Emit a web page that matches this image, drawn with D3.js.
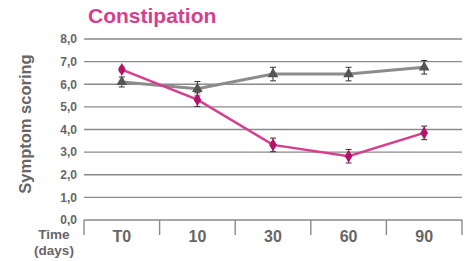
<!DOCTYPE html>
<html>
<head>
<meta charset="utf-8">
<script src="https://cdn.jsdelivr.net/npm/d3@7"></script>
<style>
  body { margin: 0; background: #fff; font-family: "Liberation Sans", Arial, sans-serif; }
</style>
</head>
<body>
<script>
// Data
const days = ["T0", "10", "30", "60", "90"];
const pinkValues = [6.65, 5.32, 3.32, 2.82, 3.85];
const pinkErrors = [0.1, 0.3, 0.3, 0.3, 0.3];
const greyValues = [6.1, 5.8, 6.45, 6.45, 6.75];
const greyErrors = [0.22, 0.32, 0.3, 0.3, 0.3];
const yTicks = [0, 1, 2, 3, 4, 5, 6, 7, 8];

const width = 473, height = 261;
const margin = { top: 39, right: 11, bottom: 41, left: 84 };

const svg = d3.select("body").append("svg")
    .attr("width", width)
    .attr("height", height);

const xScale = d3.scaleBand()
    .domain(days)
    .range([margin.left, width - margin.right]);

const yScale = d3.scaleLinear()
    .domain([0, 8])
    .range([height - margin.bottom, margin.top]);

// Gridlines
svg.append("g")
    .selectAll("line")
    .data(yTicks.filter(d => d > 0))
    .join("line")
    .attr("x1", margin.left)
    .attr("x2", width - margin.right)
    .attr("y1", d => yScale(d))
    .attr("y2", d => yScale(d))
    .attr("stroke", "#8a8a8a")
    .attr("stroke-width", 1.4);

// Y axis labels
const yAxis = d3.axisLeft(yScale)
    .tickValues(yTicks)
    .tickSize(0)
    .tickPadding(7)
    .tickFormat(d => d3.format(".1f")(d).replace(".", ","));

const yG = svg.append("g")
    .attr("transform", `translate(${margin.left}, 0)`)
    .call(yAxis);
yG.select(".domain").remove();
yG.selectAll("text")
    .attr("fill", "#666")
    .style("font-size", "12px")
    .style("font-weight", "bold")
    .style("font-family", "Liberation Sans, Arial, sans-serif");

// X axis: baseline with band dividers
const xAxisG = svg.append("g");
xAxisG.append("line")
    .attr("x1", margin.left)
    .attr("x2", width - margin.right)
    .attr("y1", yScale(0))
    .attr("y2", yScale(0))
    .attr("stroke", "#8a8a8a")
    .attr("stroke-width", 1.4);

const edges = days.map(d => xScale(d)).concat([xScale(days[days.length - 1]) + xScale.bandwidth()]);
xAxisG.selectAll(".divider")
    .data(edges)
    .join("line")
    .attr("class", "divider")
    .attr("x1", d => d)
    .attr("x2", d => d)
    .attr("y1", yScale(0))
    .attr("y2", yScale(0) + 15)
    .attr("stroke", "#8a8a8a")
    .attr("stroke-width", 1.4);

xAxisG.selectAll(".xlabel")
    .data(days)
    .join("text")
    .attr("class", "xlabel")
    .attr("x", d => xScale(d) + xScale.bandwidth() / 2)
    .attr("y", yScale(0) + 22)
    .attr("text-anchor", "middle")
    .attr("fill", "#666")
    .style("font-size", "16px")
    .style("font-weight", "bold")
    .text(d => d);

// "Time (days)" label
svg.append("text")
    .attr("x", 54)
    .attr("y", 239)
    .attr("text-anchor", "middle")
    .attr("fill", "#666")
    .style("font-size", "13.5px")
    .style("font-weight", "bold")
    .text("Time");
svg.append("text")
    .attr("x", 54)
    .attr("y", 255)
    .attr("text-anchor", "middle")
    .attr("fill", "#666")
    .style("font-size", "13.5px")
    .style("font-weight", "bold")
    .text("(days)");

// Y axis title
svg.append("text")
    .attr("transform", `translate(31, 124) rotate(-90)`)
    .attr("text-anchor", "middle")
    .attr("fill", "#666")
    .style("font-size", "16.5px")
    .style("font-weight", "bold")
    .text("Symptom scoring");

// Title
svg.append("text")
    .attr("x", 88)
    .attr("y", 23)
    .attr("fill", "#d63f8e")
    .style("font-size", "21px")
    .style("font-weight", "bold")
    .text("Constipation");

const cx = d => xScale(d) + xScale.bandwidth() / 2;

function drawSeries(values, errors, lineColor, markerColor, markerType, lineWidth) {
    const g = svg.append("g");
    const pts = days.map((d, i) => ({ day: d, v: values[i], e: errors[i] }));

    // error bars
    const eb = g.selectAll(".err")
        .data(pts)
        .join("g");
    eb.append("line")
        .attr("x1", d => cx(d.day)).attr("x2", d => cx(d.day))
        .attr("y1", d => yScale(d.v + d.e)).attr("y2", d => yScale(d.v - d.e))
        .attr("stroke", "#333").attr("stroke-width", 1);
    eb.append("line")
        .attr("x1", d => cx(d.day) - 3).attr("x2", d => cx(d.day) + 3)
        .attr("y1", d => yScale(d.v + d.e)).attr("y2", d => yScale(d.v + d.e))
        .attr("stroke", "#333").attr("stroke-width", 1);
    eb.append("line")
        .attr("x1", d => cx(d.day) - 3).attr("x2", d => cx(d.day) + 3)
        .attr("y1", d => yScale(d.v - d.e)).attr("y2", d => yScale(d.v - d.e))
        .attr("stroke", "#333").attr("stroke-width", 1);

    g.append("path")
        .datum(pts)
        .attr("fill", "none")
        .attr("stroke", lineColor)
        .attr("stroke-width", lineWidth)
        .attr("d", d3.line().x(d => cx(d.day)).y(d => yScale(d.v)));

    g.selectAll(".marker")
        .data(pts)
        .join("path")
        .attr("transform", d => `translate(${cx(d.day)}, ${yScale(d.v)})`)
        .attr("d", d3.symbol().type(markerType).size(50))
        .attr("fill", markerColor);
}

drawSeries(greyValues, greyErrors, "#8c8c8c", "#555", d3.symbolTriangle, 3);
drawSeries(pinkValues, pinkErrors, "#d63f8e", "#b3146a", d3.symbolDiamond, 2.5);
</script>
</body>
</html>
